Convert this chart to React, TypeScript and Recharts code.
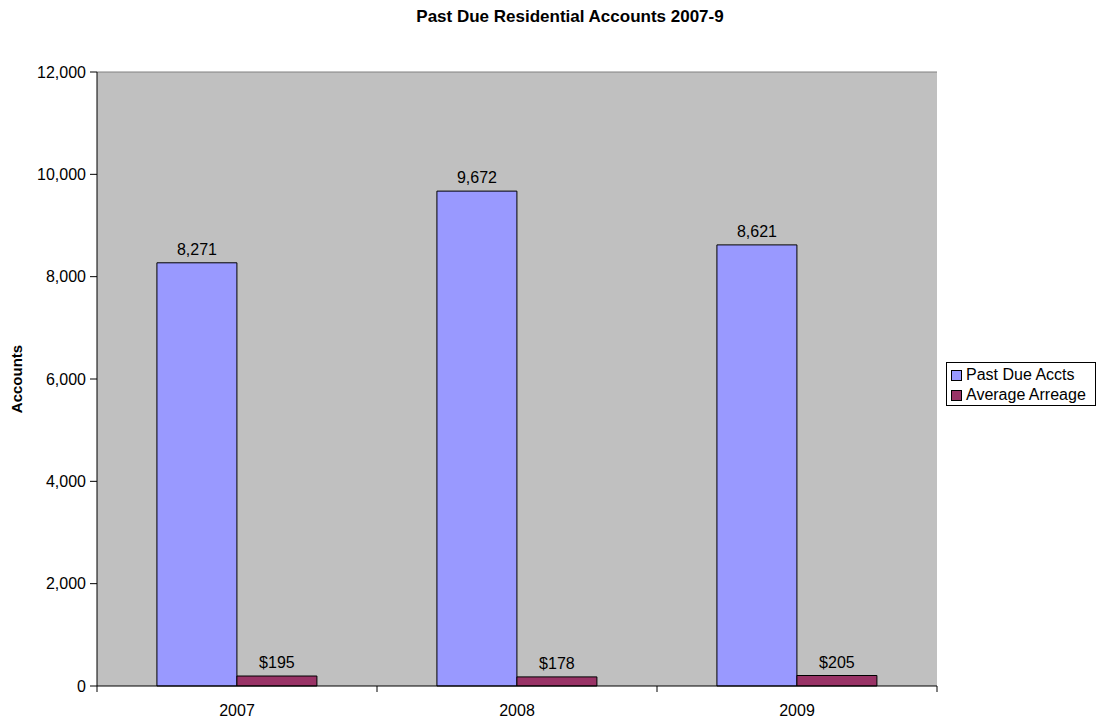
import React from 'react';
import {
  BarChart,
  Bar,
  XAxis,
  YAxis,
  CartesianGrid,
  Legend,
  LabelList,
  ReferenceLine,
} from 'recharts';

const years = ['2007', '2008', '2009'];
const pastDueAccts = [8271, 9672, 8621];
const averageArreage = [195, 178, 205];
const yTicks = [0, 2000, 4000, 6000, 8000, 10000, 12000];

const chartData = years.map((year, i) => ({
  year,
  pastDue: pastDueAccts[i],
  arreage: averageArreage[i],
}));

const FONT = '"Liberation Sans", Arial, sans-serif';

const formatNumber = (value: number) => value.toLocaleString('en-US');
const formatDollar = (value: number) => `$${value}`;

const XTick = (props: any) => {
  const { x, y, payload, index } = props;
  const half = payload && payload.offset ? payload.offset : 140;
  return (
    <g>
      <line x1={x - half} y1={y - 8} x2={x - half} y2={y - 2} stroke="#000" />
      {index === years.length - 1 && (
        <line x1={x + half} y1={y - 8} x2={x + half} y2={y - 2} stroke="#000" />
      )}
      <text x={x} y={y + 22} textAnchor="middle" fontSize={16} fontFamily={FONT} fill="#000">
        {payload.value}
      </text>
    </g>
  );
};

const LegendBox = () => (
  <div
    style={{
      border: '1px solid #000',
      background: '#fff',
      width: 150,
      height: 44,
      padding: '2px 0 2px 4px',
      fontFamily: FONT,
      fontSize: 16,
      lineHeight: '20px',
      boxSizing: 'border-box',
    }}
  >
    {[
      { name: 'Past Due Accts', color: '#9999FF' },
      { name: 'Average Arreage', color: '#993366' },
    ].map((item) => (
      <div key={item.name} style={{ display: 'flex', alignItems: 'center' }}>
        <span
          style={{
            display: 'inline-block',
            width: 9,
            height: 9,
            background: item.color,
            border: '1px solid #000',
            marginRight: 4,
          }}
        />
        <span>{item.name}</span>
      </div>
    ))}
  </div>
);

const App: React.FC = () => {
  return (
    <div style={{ position: 'absolute', left: 0, top: 0, width: 1100, height: 721, background: '#fff' }}>
      <div
        style={{
          position: 'absolute',
          top: 7,
          left: 40,
          width: 1060,
          textAlign: 'center',
          fontFamily: FONT,
          fontWeight: 'bold',
          fontSize: 17,
        }}
      >
        Past Due Residential Accounts 2007-9
      </div>
      <BarChart
        width={1100}
        height={721}
        data={chartData}
        margin={{ top: 72, right: 163, bottom: 5, left: 17 }}
        barCategoryGap="21.4%"
        barGap={0}
      >
        <CartesianGrid
          vertical={false}
          horizontalValues={[2000, 4000, 6000, 8000, 10000]}
          stroke="#000"
          fill="#C0C0C0"
          fillOpacity={1}
        />
        <XAxis
          dataKey="year"
          height={30}
          tickLine={false}
          axisLine={{ stroke: '#000' }}
          tick={<XTick />}
        />
        <YAxis
          yAxisId="left"
          width={80}
          domain={[0, 12000]}
          ticks={yTicks}
          tickFormatter={formatNumber}
          tickSize={7}
          tickMargin={4}
          axisLine={{ stroke: '#000' }}
          tickLine={{ stroke: '#000' }}
          tick={{ fontSize: 16, fontFamily: FONT, fill: '#000' }}
          label={{
            content: () => (
              <text
                x={22}
                y={379}
                transform="rotate(-90, 22, 379)"
                textAnchor="middle"
                fontSize={15}
                fontWeight="bold"
                fontFamily={FONT}
                fill="#000"
              >
                Accounts
              </text>
            ),
          }}
        />
        <YAxis
          yAxisId="right"
          orientation="right"
          width={0}
          domain={[0, 12000]}
          tick={false}
          tickLine={false}
          axisLine={{ stroke: '#808080' }}
        />
        <ReferenceLine yAxisId="left" y={12000} stroke="#808080" />
        <Legend
          content={<LegendBox />}
          layout="vertical"
          align="center"
          verticalAlign="middle"
          wrapperStyle={{ position: 'absolute', left: 946, top: 362, width: 150 }}
        />
        <Bar
          yAxisId="left"
          dataKey="pastDue"
          name="Past Due Accts"
          fill="#9999FF"
          stroke="#000"
          strokeWidth={1}
          isAnimationActive={false}
        >
          <LabelList
            dataKey="pastDue"
            position="top"
            offset={8}
            formatter={(v: any) => formatNumber(Number(v))}
            style={{ fontSize: 16, fontFamily: FONT, fill: '#000' }}
          />
        </Bar>
        <Bar
          yAxisId="left"
          dataKey="arreage"
          name="Average Arreage"
          fill="#993366"
          stroke="#000"
          strokeWidth={1}
          isAnimationActive={false}
        >
          <LabelList
            dataKey="arreage"
            position="top"
            offset={8}
            formatter={(v: any) => formatDollar(Number(v))}
            style={{ fontSize: 16, fontFamily: FONT, fill: '#000' }}
          />
        </Bar>
      </BarChart>
    </div>
  );
};

export default App;
